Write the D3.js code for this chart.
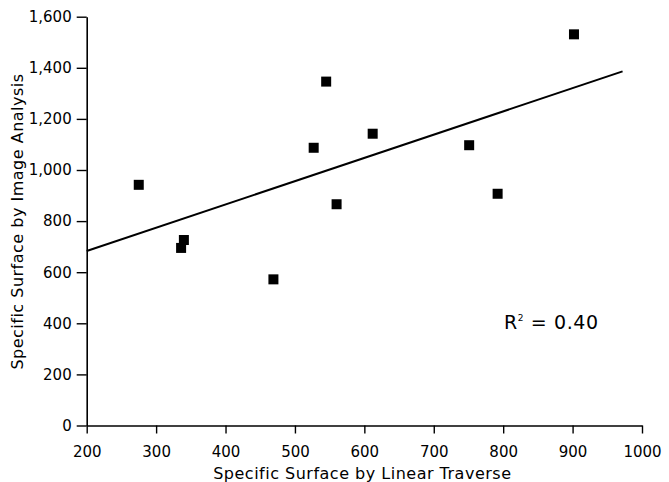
<!DOCTYPE html>
<html>
<head>
<meta charset="utf-8">
<script src="https://cdn.jsdelivr.net/npm/d3@7"></script>
<style>
  html, body { margin: 0; padding: 0; background: #fff; }
  svg { display: block; font-family: "DejaVu Sans", sans-serif; }
</style>
</head>
<body>
<svg id="chart" width="669" height="482"></svg>
<script>
// Specific surface: linear traverse (x) vs image analysis (y)
const linearTraverse = [275, 340, 336, 469, 527, 545, 560, 612, 751, 792, 902];
const imageAnalysis  = [942, 726, 695, 572, 1087, 1346, 866, 1142, 1097, 907, 1531];

// Least-squares fit line endpoints
const fitX = [200, 972];
const fitY = [683, 1386];

const xTicks = [200, 300, 400, 500, 600, 700, 800, 900, 1000];
const yTicks = [0, 200, 400, 600, 800, 1000, 1200, 1400, 1600];
const rSquared = "0.40";

const svg = d3.select("#chart");
const plot = { left: 86.7, right: 642, top: 16.7, bottom: 425.5 };

const x = d3.scaleLinear().domain([200, 1000]).range([plot.left, plot.right]);
const y = d3.scaleLinear().domain([0, 1600]).range([plot.bottom, plot.top]);

// Axes
const xAxis = d3.axisBottom(x).tickValues(xTicks).tickSize(8).tickPadding(13)
  .tickFormat(d3.format("d")).tickSizeOuter(0);
const yAxis = d3.axisLeft(y).tickValues(yTicks).tickSize(10).tickPadding(5)
  .tickFormat(d3.format(",")).tickSizeOuter(0);

const gx = svg.append("g").attr("transform", `translate(0,${plot.bottom})`).call(xAxis);
const gy = svg.append("g").attr("transform", `translate(${plot.left},0)`).call(yAxis);

[gx, gy].forEach(g => {
  g.select(".domain").attr("stroke", "#000").attr("stroke-width", 1.6);
  g.selectAll(".tick line").attr("stroke", "#000").attr("stroke-width", 1.4);
  g.selectAll(".tick text").attr("fill", "#000").style("font-size", "15px")
    .style("font-family", "DejaVu Sans, sans-serif");
});

// Axis titles
svg.append("text")
  .attr("x", (plot.left + plot.right) / 2 - 2)
  .attr("y", 478.5)
  .attr("text-anchor", "middle")
  .style("font-size", "16px")
  .style("letter-spacing", "0.5px")
  .text("Specific Surface by Linear Traverse");

svg.append("text")
  .attr("transform", `translate(22.5,${221.5}) rotate(-90)`)
  .attr("text-anchor", "middle")
  .style("font-size", "16px")
  .style("letter-spacing", "0.5px")
  .text("Specific Surface by Image Analysis");

// Regression line
svg.append("line")
  .attr("x1", x(fitX[0])).attr("y1", y(fitY[0]))
  .attr("x2", x(fitX[1])).attr("y2", y(fitY[1]))
  .attr("stroke", "#000").attr("stroke-width", 2);

// Data points
const pts = linearTraverse.map((v, i) => ({ x: v, y: imageAnalysis[i] }));
const size = 10;
svg.append("g").selectAll("rect").data(pts).join("rect")
  .attr("x", d => x(d.x) - size / 2)
  .attr("y", d => y(d.y) - size / 2)
  .attr("width", size).attr("height", size)
  .attr("fill", "#000");

// R-squared annotation
const rt = svg.append("text")
  .attr("x", 504).attr("y", 328.5)
  .style("font-size", "19px")
  .style("letter-spacing", "0.6px");
rt.append("tspan").text("R");
rt.append("tspan").attr("dy", -8).style("font-size", "9px").text("2");
rt.append("tspan").attr("dy", 8).text(" = " + rSquared);
</script>
</body>
</html>
